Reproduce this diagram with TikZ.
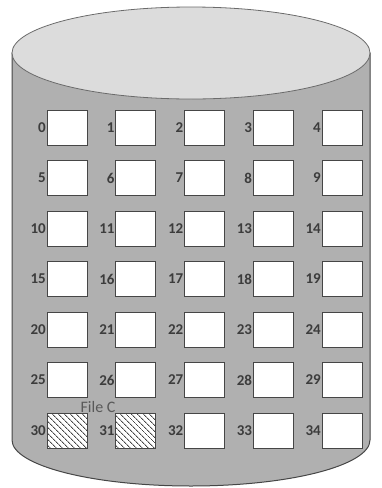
\documentclass[tikz,border=0pt]{standalone}
\usepackage{fontspec}
\setmainfont{Carlito}
\usetikzlibrary{positioning, patterns.meta}
\definecolor{drum}{RGB}{176,176,176}
\definecolor{lid}{RGB}{220,220,220}
\definecolor{edge}{RGB}{70,70,70}
\definecolor{ink}{RGB}{60,60,60}

\begin{document}
\begin{tikzpicture}[x=1pt, y=-1pt,
    block/.style={draw=edge, line width=1pt, fill=white, minimum width=40pt, minimum height=35pt, inner sep=0pt},
    used/.style={block, pattern={Lines[angle=-45, distance=4pt, line width=0.9pt]}, pattern color=edge},
    num/.style={font=\fontsize{15}{15}\selectfont\bfseries, text=ink, inner sep=0.5pt, anchor=east}]
  \useasboundingbox (0,0) rectangle (381,488);
  % disk body
  \draw[edge, line width=1pt, fill=drum] (12,53) -- (12,440)
    arc[start angle=180, end angle=0, x radius=179, y radius=46] -- (370,53) -- cycle;
  % top
  \draw[edge!80, line width=0.8pt, fill=lid] (191,53) ellipse[x radius=179, y radius=46];
  % blocks
  \foreach \r in {0,...,6}{
    \foreach \c in {0,...,4}{
      \pgfmathtruncatemacro{\k}{5*\r+\c}
      \node[block] (b\k) at ({67+68.75*\c}, {127.5+50.5*\r}) {};
      \node[num] (n\k) at (b\k.west) {\k};
    }
  }
  % file C
  \node[used] at (b30) {};
  \node[used] at (b31) {};
  \node[font=\fontsize{16}{16}\selectfont, text=ink!85, inner sep=0pt] (fc) at (98,407) {File C};
\end{tikzpicture}
\end{document}
